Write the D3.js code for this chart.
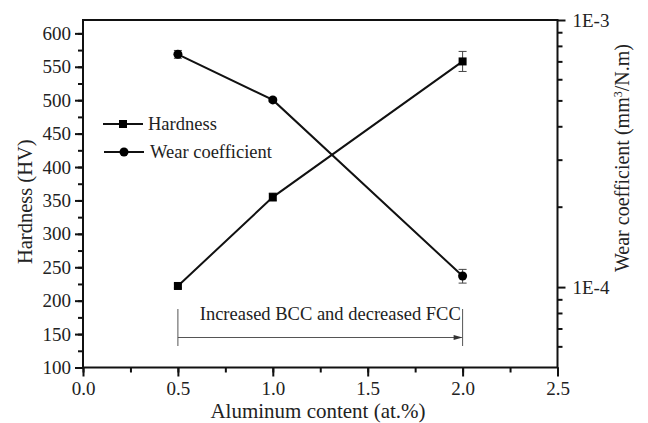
<!DOCTYPE html>
<html>
<head>
<meta charset="utf-8">
<script src="https://cdn.jsdelivr.net/npm/d3@7"></script>
<style>
  body { margin: 0; background: #fff; }
  svg text { font-family: "Liberation Serif", "Times New Roman", serif; fill: #222; }
</style>
</head>
<body>
<div id="chart"></div>
<script>
var aluminum = [0.5, 1.0, 2.0];
var hardness = [222, 355, 558];
var hardnessErr = [3, 6, 15];
var wear = [7.44e-4, 5.02e-4, 1.1e-4];
var wearErr = [0.25e-4, 0.08e-4, 0.065e-4];
var xTicks = [0, 0.5, 1.0, 1.5, 2.0, 2.5];
var hardTicks = [100, 150, 200, 250, 300, 350, 400, 450, 500, 550, 600];
var wearTicks = [1e-4, 1e-3];
var legendNames = ["Hardness", "Wear coefficient"];
var noteText = "Increased BCC and decreased FCC";

;(function () {
	var width = 648, height = 423;
	var margin = {top: 20, right: 90, bottom: 55, left: 83};
	var w = 557.5 - margin.left, h = 367.5 - margin.top;

	var svg = d3.select("#chart").append("svg")
		.attr("width", width)
		.attr("height", height);

	var g = svg.append("g")
		.attr("transform", "translate(" + margin.left + "," + margin.top + ")");

	var x = d3.scaleLinear().domain([0, 2.5]).range([0, w]);
	var yL = d3.scaleLinear().domain([100, 620]).range([h, 0]);
	var yR = d3.scaleLog().domain([5e-5, 1e-3]).range([h, 0]);

	// minor ticks
	var xMinor = d3.range(0, 2.51, 0.25);
	var hMinor = d3.range(100, 621, 25);
	var wMinor = [6e-5, 7e-5, 8e-5, 9e-5, 2e-4, 3e-4, 4e-4, 5e-4, 6e-4, 7e-4, 8e-4, 9e-4];

	function styleAxis(sel) {
		sel.select(".domain").remove();
		sel.selectAll("line").attr("stroke", "#111").attr("stroke-width", 2);
		sel.selectAll("text").style("font-size", "19px").attr("fill", "#222");
	}

	g.append("g").attr("transform", "translate(0," + h + ")")
		.call(d3.axisBottom(x).tickValues(xMinor).tickSize(5).tickFormat(""))
		.call(styleAxis);
	g.append("g").attr("transform", "translate(0," + h + ")")
		.call(d3.axisBottom(x).tickValues(xTicks).tickSize(9).tickPadding(5).tickFormat(d3.format(".1f")))
		.call(styleAxis);

	g.append("g")
		.call(d3.axisLeft(yL).tickValues(hMinor).tickSize(5).tickFormat(""))
		.call(styleAxis);
	g.append("g")
		.call(d3.axisLeft(yL).tickValues(hardTicks).tickSize(8).tickPadding(4))
		.call(styleAxis);

	g.append("g").attr("transform", "translate(" + w + ",0)")
		.call(d3.axisRight(yR).tickValues(wMinor).tickSize(5).tickFormat(""))
		.call(styleAxis);
	g.append("g").attr("transform", "translate(" + w + ",0)")
		.call(d3.axisRight(yR).tickValues(wearTicks).tickSize(8).tickPadding(7)
			.tickFormat(function (d) { return "1E" + Math.round(Math.log10(d)); }))
		.call(styleAxis);

	// frame
	g.append("rect")
		.attr("width", w).attr("height", h)
		.attr("fill", "none").attr("stroke", "#111").attr("stroke-width", 2);

	// annotation
	var note = g.append("g").attr("stroke", "#555").attr("stroke-width", 1);
	[0.5, 2.0].forEach(function (v) {
		note.append("line")
			.attr("x1", x(v)).attr("x2", x(v))
			.attr("y1", 289).attr("y2", 326);
	});
	note.append("line")
		.attr("x1", x(0.5)).attr("x2", x(2.0) - 1)
		.attr("y1", 317.5).attr("y2", 317.5);
	note.append("path")
		.attr("d", "M" + x(2.0) + ",317.5 l-9,-2.5 l0,5 z")
		.attr("fill", "#333").attr("stroke", "none");
	g.append("text")
		.attr("x", (x(0.5) + x(2.0)) / 2 + 10).attr("y", 300)
		.attr("text-anchor", "middle")
		.style("font-size", "18.5px")
		.text(noteText);

	// lines
	var hLine = d3.line().x(function (d, i) { return x(aluminum[i]); }).y(function (d) { return yL(d); });
	var wLine = d3.line().x(function (d, i) { return x(aluminum[i]); }).y(function (d) { return yR(d); });

	g.append("path").datum(hardness).attr("d", hLine)
		.attr("fill", "none").attr("stroke", "#111").attr("stroke-width", 2);
	g.append("path").datum(wear).attr("d", wLine)
		.attr("fill", "none").attr("stroke", "#111").attr("stroke-width", 2);

	// error bars
	function errBars(vals, errs, y) {
		var eg = g.append("g").attr("stroke", "#444").attr("stroke-width", 1);
		vals.forEach(function (v, i) {
			var cx = x(aluminum[i]);
			var y1 = y(v + errs[i]), y2 = y(v - errs[i]);
			eg.append("line").attr("x1", cx).attr("x2", cx).attr("y1", y1).attr("y2", y2);
			eg.append("line").attr("x1", cx - 4).attr("x2", cx + 4).attr("y1", y1).attr("y2", y1);
			eg.append("line").attr("x1", cx - 4).attr("x2", cx + 4).attr("y1", y2).attr("y2", y2);
		});
	}
	errBars(hardness, hardnessErr, yL);
	errBars(wear, wearErr, yR);

	// markers
	g.selectAll(".sq").data(hardness).enter().append("rect")
		.attr("class", "sq")
		.attr("x", function (d, i) { return x(aluminum[i]) - 4; })
		.attr("y", function (d) { return yL(d) - 4; })
		.attr("width", 8).attr("height", 8)
		.attr("fill", "#000");
	g.selectAll(".dot").data(wear).enter().append("circle")
		.attr("class", "dot")
		.attr("cx", function (d, i) { return x(aluminum[i]); })
		.attr("cy", function (d) { return yR(d); })
		.attr("r", 4.5)
		.attr("fill", "#000");

	// legend
	var leg = svg.append("g");
	leg.append("line").attr("x1", 103).attr("x2", 143).attr("y1", 124).attr("y2", 124)
		.attr("stroke", "#111").attr("stroke-width", 2);
	leg.append("rect").attr("x", 119).attr("y", 120).attr("width", 8).attr("height", 8).attr("fill", "#000");
	leg.append("text").attr("x", 148).attr("y", 130).style("font-size", "18.5px").text(legendNames[0]);
	leg.append("line").attr("x1", 104).attr("x2", 144).attr("y1", 152).attr("y2", 152)
		.attr("stroke", "#111").attr("stroke-width", 2);
	leg.append("circle").attr("cx", 124).attr("cy", 152).attr("r", 4.5).attr("fill", "#000");
	leg.append("text").attr("x", 150).attr("y", 158).style("font-size", "18.5px").text(legendNames[1]);

	// axis titles
	svg.append("text")
		.attr("x", 318).attr("y", 418)
		.attr("text-anchor", "middle")
		.style("font-size", "21px")
		.text("Aluminum content (at.%)");

	svg.append("text")
		.attr("transform", "translate(32," + (margin.top + h / 2 + 8) + ") rotate(-90)")
		.attr("text-anchor", "middle")
		.style("font-size", "20.5px")
		.text("Hardness (HV)");

	var rt = svg.append("text")
		.attr("transform", "translate(629,158) rotate(-90)")
		.attr("text-anchor", "middle")
		.style("font-size", "20px");
	rt.append("tspan").text("Wear coefficient (mm");
	rt.append("tspan").attr("dy", -7).style("font-size", "12px").text("3");
	rt.append("tspan").attr("dy", 7).text("/N.m)");
})();
</script>
</body>
</html>
